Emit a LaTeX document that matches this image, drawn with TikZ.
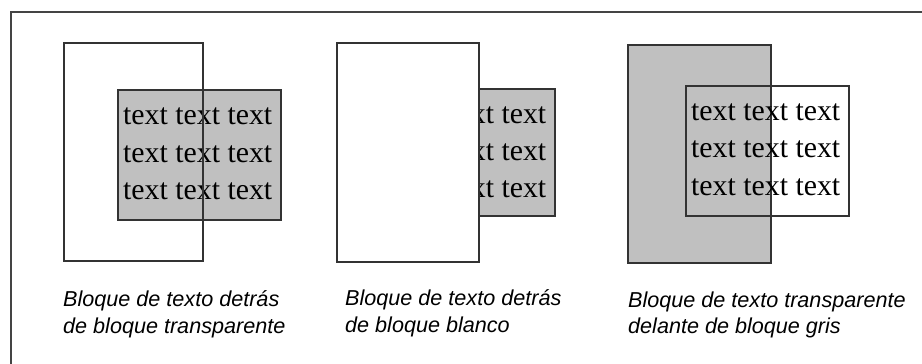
\documentclass[tikz,border=0pt]{standalone}
\usepackage{fontspec}
\setmainfont{Liberation Serif}
\newfontfamily\capfont{Liberation Sans}
\definecolor{boxline}{HTML}{333333}
\definecolor{boxgray}{HTML}{C0C0C0}
\definecolor{frameline}{HTML}{444444}
\begin{document}
\begin{tikzpicture}[x=1pt,y=-1pt,
  blockline/.style={draw=boxline,line width=1.6pt},
  txt/.style={anchor=base west,inner sep=0pt,font=\fontsize{29.8}{38}\selectfont,text=black},
  captext/.style={anchor=base west,inner sep=0pt,font=\capfont\itshape\fontsize{21.6}{27}\selectfont,text=black}]
\useasboundingbox (0,0) rectangle (922,364);
% frame
\draw[frameline,line width=2pt] (11,364) -- (11,12) -- (922,12);
% panel 1
\fill[boxgray] (118,90) rectangle (281,220);
\draw[blockline] (118,90) rectangle (281,220);
\node[txt] (p1a) at (123,124) {text text text};
\node[txt] (p1b) at (123,162) {text text text};
\node[txt] (p1c) at (123,199) {text text text};
\draw[blockline] (64,43) rectangle (203,261);
\node[captext] (c1a) at (63,306) {Bloque de texto detrás};
\node[captext] (c1b) at (63,333) {de bloque transparente};
% panel 2
\fill[boxgray] (390,89) rectangle (555,216);
\draw[blockline] (390,89) rectangle (555,216);
\node[txt] (p2a) at (397,123) {text text text};
\node[txt] (p2b) at (397,160) {text text text};
\node[txt] (p2c) at (397,197) {text text text};
\filldraw[fill=white,draw=boxline,line width=1.6pt] (337,43) rectangle (479,262);
\node[captext] (c2a) at (345,305) {Bloque de texto detrás};
\node[captext] (c2b) at (345,332) {de bloque blanco};
% panel 3
\fill[boxgray] (628,45) rectangle (771,263);
\draw[blockline] (628,45) rectangle (771,263);
\draw[blockline] (686,86) rectangle (849,216);
\node[txt] (p3a) at (691,120) {text text text};
\node[txt] (p3b) at (691,157) {text text text};
\node[txt] (p3c) at (691,195) {text text text};
\node[captext] (c3a) at (628,307) {Bloque de texto transparente};
\node[captext] (c3b) at (628,333) {delante de bloque gris};
\end{tikzpicture}
\end{document}
